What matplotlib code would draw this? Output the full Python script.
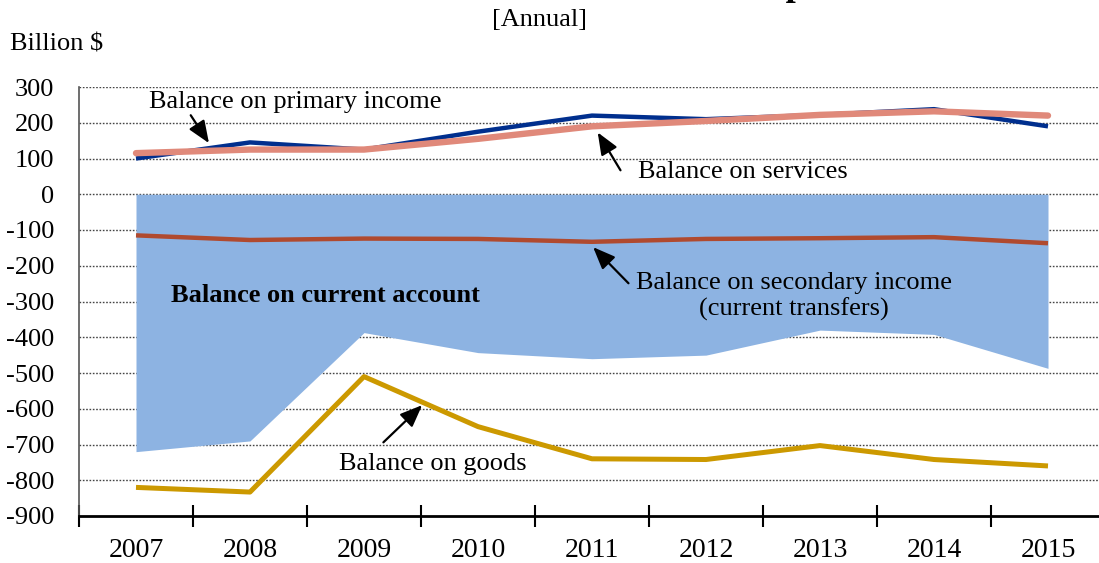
import matplotlib
matplotlib.use("Agg")
import matplotlib.pyplot as plt
import numpy as np

years = ["2007", "2008", "2009", "2010", "2011", "2012", "2013", "2014", "2015"]
primary_income = [100, 145, 125, 175, 220, 210, 222, 238, 190]
services = [115, 125, 125, 155, 190, 205, 222, 232, 220]
secondary_income = [-115, -128, -124, -125, -133, -125, -123, -120, -137]
goods = [-820, -833, -510, -650, -740, -742, -703, -742, -760]
current_account = [-720, -690, -387, -443, -460, -450, -380, -392, -487]
yticks = list(range(-900, 301, 100))

plt.rcParams['font.family'] = ['Liberation Serif', 'DejaVu Serif']

fig = plt.figure(figsize=(10.99, 5.63), dpi=100)
W, H = 1099, 563
left, right = 79 / W, 1105 / W
bottom, top = 1 - 516 / H, 1 - 87 / H
ax = fig.add_axes([left, bottom, right - left, top - bottom])

x = np.arange(len(years))
ax.set_xlim(-0.5, len(years) - 0.5)
ax.set_ylim(-900, 300)

for v in yticks:
    if v > -900:
        ax.axhline(v, color='#444444', lw=1.0, ls=(0, (1.2, 1.2)), zorder=0)

ax.fill_between(x, 0, current_account, color='#8DB3E2', lw=0, zorder=1)
ax.plot(x, secondary_income, color='#B04A2F', lw=3.2, zorder=3, solid_capstyle='butt')
ax.plot(x, goods, color='#CC9900', lw=3.6, zorder=3, solid_capstyle='butt')
ax.plot(x, primary_income, color='#002F8E', lw=3.2, zorder=3, solid_capstyle='butt')
ax.plot(x, services, color='#E0897A', lw=4.6, zorder=4, solid_capstyle='round')

ax.set_yticks(yticks)
ax.set_yticklabels([str(v) for v in yticks], fontsize=19)
ax.tick_params(axis='y', length=0, pad=18)

ax.set_xticks(x)
ax.set_xticklabels(years, fontsize=20)
ax.tick_params(axis='x', which='major', length=0, pad=15.5)
ax.set_xticks(np.arange(-0.5, len(years), 1.0), minor=True)
ax.tick_params(axis='x', which='minor', length=16, width=1.5, direction='inout', color='black')

for s in ['top', 'right']:
    ax.spines[s].set_visible(False)
ax.spines['left'].set_color('#555555')
ax.spines['left'].set_linewidth(1.2)
ax.spines['bottom'].set_linewidth(2.0)
ax.spines['bottom'].set_zorder(5)

fs = 19
arrow = dict(arrowstyle='-|>,head_length=1.35,head_width=0.55', color='black', lw=1.6,
             shrinkA=0, shrinkB=0, mutation_scale=10)

def arr(tail, tip):
    ax.annotate('', xy=tip, xytext=tail, arrowprops=arrow, zorder=6)

arr((0.48, 221), (0.64, 143))
arr((4.25, 67), (4.05, 173))
arr((4.32, -249), (4.01, -148))
arr((2.17, -694), (2.51, -590))

ax.text(0.114, 257, 'Balance on primary income', fontsize=fs, va='center', ha='left', zorder=6)
ax.text(4.40, 62, 'Balance on services', fontsize=fs, va='center', ha='left', zorder=6)
ax.text(5.77, -285, 'Balance on secondary income\n(current transfers)', fontsize=fs,
        va='center', ha='center', linespacing=1.2, zorder=6)
ax.text(2.60, -755, 'Balance on goods', fontsize=fs, va='center', ha='center', zorder=6)
ax.text(0.307, -283, 'Balance on current account', fontsize=fs, fontweight='bold',
        va='center', ha='left', zorder=6)

fig.text(10 / W, 1 - 45 / H, 'Billion $', fontsize=19, va='center', ha='left')
fig.text(540 / W, 1 - 20 / H, '[Annual]', fontsize=19, va='center', ha='center')

title = 'U.S. Current Account and Its Components'
prefix = 'U.S. Current Account and Its Com'
tprops = dict(fontsize=26, fontweight='bold', va='baseline', ha='left')
r = fig.canvas.get_renderer()
tmp = fig.text(0, 0, prefix, **tprops)
pw = tmp.get_window_extent(renderer=r).width
tmp.remove()
fig.text((786 - pw) / W, 1 + 5 / H, title, **tprops)

fig.savefig('out.png', dpi=100)
